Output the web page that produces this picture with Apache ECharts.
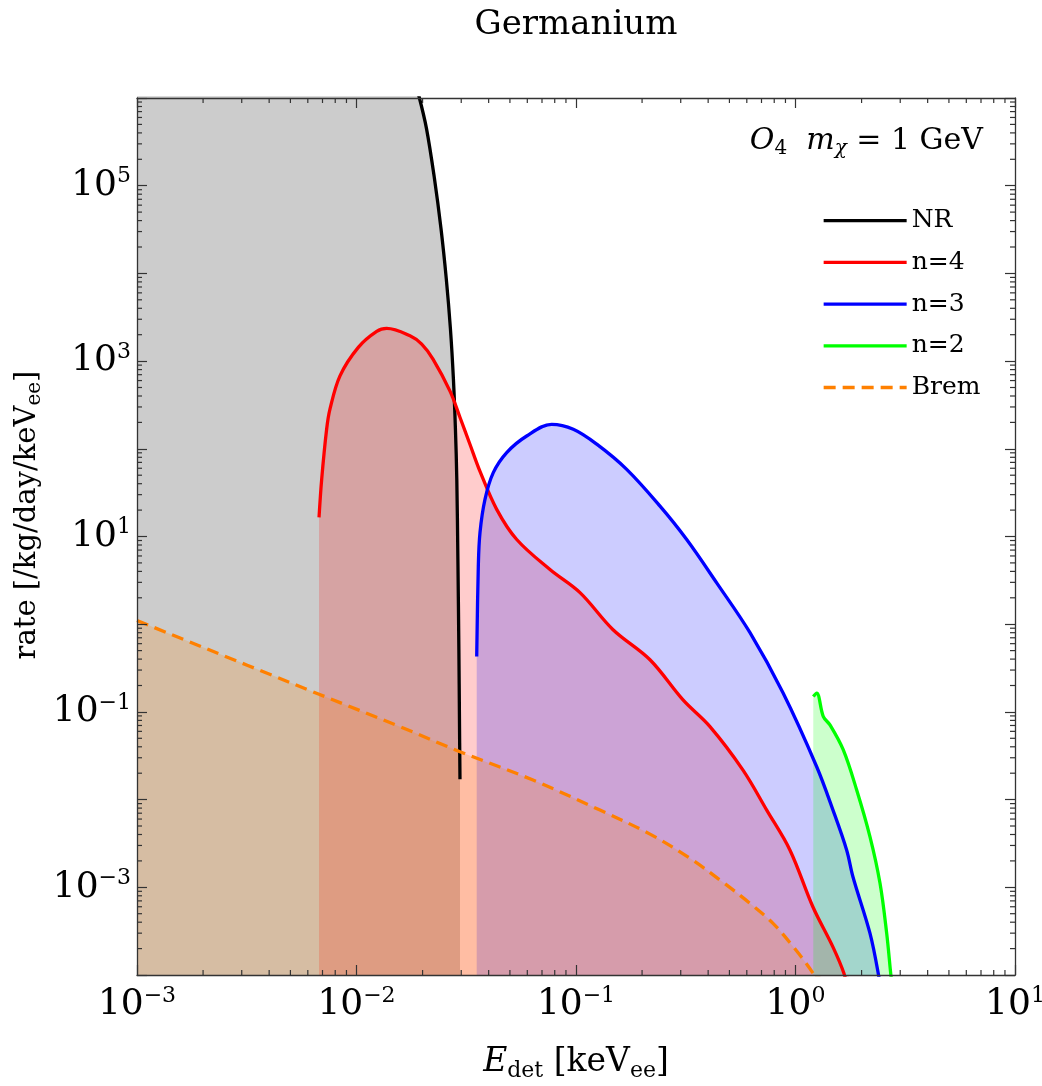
<!DOCTYPE html>
<html>
<head>
<meta charset="utf-8">
<title>Germanium</title>
<script src="https://cdn.jsdelivr.net/npm/echarts@6/dist/echarts.min.js"></script>
<style>
  html, body { margin: 0; padding: 0; background: #fff; }
  #main { width: 1042px; height: 1086px; }
</style>
</head>
<body>
<div id="main"></div>
<script>
  // values: E_det [keVee] and rate [/kg/day/keVee]
  const nrE    = [0.001, 0.006, 0.014, 0.01723, 0.01927, 0.02084, 0.02266, 0.02427, 0.02565, 0.02679, 0.02764, 0.02823, 0.02864, 0.02897, 0.02927, 0.02945, 0.02961];
  const nrRate = [1e9, 1e8, 1.37e7, 2.83e6, 1.04e6, 4.48e5, 1.2e5, 3.23e4, 8650, 2323, 622, 167, 44.8, 5.46, 0.512, 0.0811, 0.0171];

  const n4E    = [0.00675, 0.00694, 0.00731, 0.00757, 0.00841, 0.01019, 0.01236, 0.01373, 0.01753, 0.01982, 0.02231, 0.02667, 0.0296, 0.0329, 0.03653, 0.04352, 0.0537, 0.0761, 0.1043, 0.1475, 0.2173, 0.3073, 0.4077, 0.5765, 0.7394, 0.944, 1.201, 1.482, 1.663, 1.75];
  const n4Rate = [16.5, 44.8, 167, 283, 679, 1435, 2183, 2365, 1945, 1563, 1054, 454, 229, 112, 55.3, 20.4, 9.24, 4.2, 2.29, 0.865, 0.393, 0.137, 0.068, 0.0217, 0.00759, 0.00265, 5.96e-4, 2.08e-4, 1.04e-4, 6e-5];

  const n3E    = [0.03529, 0.03589, 0.03653, 0.03849, 0.04199, 0.04834, 0.05962, 0.0775, 0.0972, 0.1243, 0.1702, 0.2414, 0.3194, 0.4375, 0.6205, 0.877, 1.249, 1.482, 1.711, 1.828, 2.185, 2.384, 2.45];
  const n3Rate = [0.428, 4.58, 11.1, 26.5, 53.5, 90.6, 140, 190, 167, 113, 58.3, 22.2, 9.24, 2.96, 0.8, 0.165, 0.0237, 0.00759, 0.00265, 0.00131, 2.98e-4, 1.03e-4, 6e-5];

  const n2E    = [1.205, 1.249, 1.339, 1.436, 1.651, 1.9, 2.185, 2.427, 2.603, 2.716, 2.78];
  const n2Rate = [0.15, 0.164, 0.0883, 0.071, 0.0368, 0.01286, 0.00376, 0.00111, 2.98e-4, 1.03e-4, 6e-5];

  const bremE    = [0.001, 0.00675, 0.01577, 0.0296, 0.0637, 0.1286, 0.2173, 0.3307, 0.4674, 0.6205, 0.79, 0.9736, 1.205, 1.3];
  const bremRate = [1.1, 0.159, 0.0679, 0.0352, 0.0167, 0.00759, 0.00404, 0.00214, 0.00114, 6.56e-4, 3.88e-4, 2.12e-4, 1.04e-4, 7e-5];

  // axis ranges and minor tick mantissas
  const xMin = 1e-3, xMax = 10;
  const yMin = 1e-4, yMax = 1e6;
  const mantissas = [2, 3, 4, 5, 6, 7, 8, 9];
  const xDecades = [-3, -2, -1, 0];
  const yDecades = [-4, -3, -2, -1, 0, 1, 2, 3, 4, 5];

  const serif = '"DejaVu Serif", serif';
  const frame = '#333';

  const zip = (xs, ys) => xs.map((x, i) => [x, ys[i]]);
  const minorOf = decades => {
    const out = [];
    decades.forEach(d => mantissas.forEach(m => out.push(m * Math.pow(10, d))));
    return out;
  };
  const xMinor = minorOf(xDecades);
  const yMinor = minorOf(yDecades);

  // 10^n label with a raised exponent
  function powLabel(v) {
    const e = Math.round(Math.log10(v));
    return '{b|10}{s|' + (e < 0 ? '\u2212' + (-e) : e) + '}';
  }
  const powRich = {
    b: { fontFamily: serif, fontSize: 36, lineHeight: 40, color: '#000' },
    s: { fontFamily: serif, fontSize: 22, lineHeight: 28, verticalAlign: 'top', color: '#000' }
  };

  function curve(name, color, xs, ys, dashed) {
    return {
      name: name,
      type: 'line',
      data: zip(xs, ys),
      showSymbol: false,
      symbol: 'none',
      smooth: 0.35,
      clip: true,
      lineStyle: { color: color, width: 3.3, type: dashed ? [12, 7] : 'solid' },
      itemStyle: { color: color },
      areaStyle: { origin: 'start', color: color, opacity: 0.2 }
    };
  }

  // minor ticks on all four sides of the frame
  function renderMinorTicks(params, api) {
    const children = [];
    const tick = (x1, y1, x2, y2) => children.push({
      type: 'line',
      shape: { x1: x1, y1: y1, x2: x2, y2: y2 },
      style: { stroke: frame, lineWidth: 1.2 }
    });
    xMinor.forEach(v => {
      const b = api.coord([v, yMin]);
      const t = api.coord([v, yMax]);
      tick(b[0], b[1], b[0], b[1] - 5);
      tick(t[0], t[1], t[0], t[1] + 5);
    });
    yMinor.forEach(v => {
      const l = api.coord([xMin, v]);
      const r = api.coord([xMax, v]);
      tick(l[0], l[1], l[0] + 5, l[1]);
      tick(r[0], r[1], r[0] - 5, r[1]);
    });
    return { type: 'group', children: children };
  }

  const chart = echarts.init(document.getElementById('main'));

  const option = {
    animation: false,
    backgroundColor: '#fff',
    grid: { left: 137, top: 98, width: 878, height: 877, containLabel: false, outerBoundsMode: 'none' },
    graphic: [
      {
        type: 'text', x: 576, y: 25,
        style: { text: 'Germanium', fontFamily: serif, fontSize: 34, fill: '#000', align: 'center', verticalAlign: 'middle' }
      },
      {
        type: 'text', x: 27, y: 515, rotation: Math.PI / 2,
        style: {
          text: '{r|rate [/kg/day/keV}{sb|ee}{r|]}',
          align: 'center', verticalAlign: 'middle',
          rich: {
            r: { fontFamily: serif, fontSize: 29, lineHeight: 36, fill: '#000' },
            sb: { fontFamily: serif, fontSize: 20, lineHeight: 20, verticalAlign: 'bottom', fill: '#000' }
          }
        }
      },
      {
        type: 'text', x: 983, y: 141, z: 20,
        style: {
          text: '{it|O}{sb|4}{r|  }{it|m}{sbi|\u03c7}{r| = 1 GeV}',
          align: 'right', verticalAlign: 'middle',
          rich: {
            it: { fontFamily: serif, fontStyle: 'italic', fontSize: 30, lineHeight: 36, fill: '#000' },
            r: { fontFamily: serif, fontSize: 30, lineHeight: 36, fill: '#000' },
            sb: { fontFamily: serif, fontSize: 20, lineHeight: 24, verticalAlign: 'bottom', fill: '#000' },
            sbi: { fontFamily: serif, fontStyle: 'italic', fontSize: 20, lineHeight: 22, verticalAlign: 'bottom', fill: '#000' }
          }
        }
      }
    ],
    legend: {
      data: ['NR', 'n=4', 'n=3', 'n=2', 'Brem'],
      orient: 'vertical',
      left: 817,
      top: 201.7,
      itemWidth: 83,
      itemHeight: 14,
      itemGap: 13.7,
      selectedMode: false,
      itemStyle: { opacity: 0 },
      lineStyle: { width: 3.3 },
      textStyle: { fontFamily: serif, fontSize: 25, lineHeight: 28, color: '#000', padding: [0, 0, 0, 0] }
    },
    xAxis: [
      {
        type: 'log', logBase: 10, min: xMin, max: xMax, interval: 1,
        position: 'bottom', z: 10,
        name: '{it|E}{sb|det}{r| [keV}{sb|ee}{r|]}',
        nameLocation: 'middle', nameGap: 67,
        nameTextStyle: {
          rich: {
            it: { fontFamily: serif, fontStyle: 'italic', fontSize: 33, lineHeight: 40, color: '#000' },
            r: { fontFamily: serif, fontSize: 33, lineHeight: 40, color: '#000' },
            sb: { fontFamily: serif, fontSize: 22, lineHeight: 20, verticalAlign: 'bottom', color: '#000' }
          }
        },
        axisLine: { lineStyle: { color: frame, width: 1.3 } },
        axisTick: { inside: true, length: 10, lineStyle: { color: frame, width: 1.2 } },
        axisLabel: { margin: 10, formatter: powLabel, rich: powRich },
        splitLine: { show: false }
      },
      {
        type: 'log', logBase: 10, min: xMin, max: xMax, interval: 1,
        position: 'top', z: 10,
        axisLine: { lineStyle: { color: frame, width: 1.3 } },
        axisTick: { inside: true, length: 10, lineStyle: { color: frame, width: 1.2 } },
        axisLabel: { show: false },
        splitLine: { show: false }
      }
    ],
    yAxis: [
      {
        type: 'log', logBase: 10, min: yMin, max: yMax, interval: 1,
        position: 'left', z: 10,
        axisLine: { lineStyle: { color: frame, width: 1.3 } },
        axisTick: { inside: true, length: 10, lineStyle: { color: frame, width: 1.2 } },
        axisLabel: {
          margin: 6,
          formatter: v => (Math.round(Math.log10(v)) % 2 !== 0 ? powLabel(v) : ''),
          rich: powRich
        },
        splitLine: { show: false }
      },
      {
        type: 'log', logBase: 10, min: yMin, max: yMax, interval: 1,
        position: 'right', z: 10,
        axisLine: { lineStyle: { color: frame, width: 1.3 } },
        axisTick: { inside: true, length: 10, lineStyle: { color: frame, width: 1.2 } },
        axisLabel: { show: false },
        splitLine: { show: false }
      }
    ],
    series: [
      curve('NR', '#000000', nrE, nrRate),
      curve('n=4', '#ff0000', n4E, n4Rate),
      curve('n=3', '#0000ff', n3E, n3Rate),
      curve('n=2', '#00ff00', n2E, n2Rate),
      curve('Brem', '#ff8000', bremE, bremRate, true),
      {
        type: 'custom',
        silent: true,
        z: 10,
        clip: false,
        renderItem: renderMinorTicks,
        data: [[1, 1]]
      }
    ]
  };

  chart.setOption(option);
</script>
</body>
</html>
